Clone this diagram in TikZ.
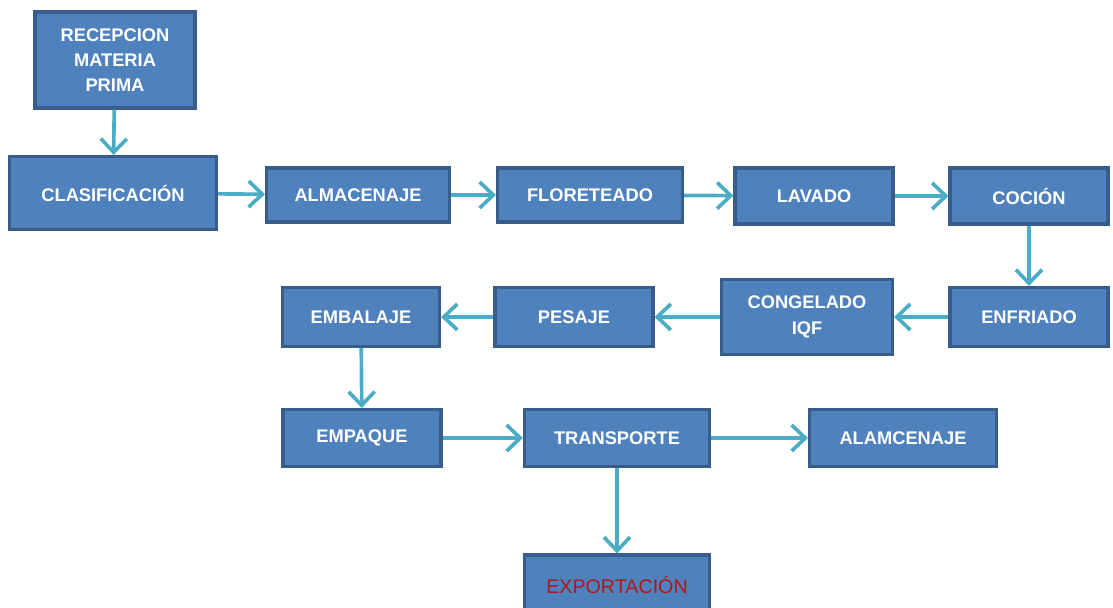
\documentclass[tikz,border=0pt]{standalone}
\usepackage{fontspec}
\setsansfont{Liberation Sans}
\usetikzlibrary{positioning, arrows.meta}
\definecolor{boxblue}{HTML}{4F81BD}
\definecolor{boxedge}{HTML}{385D8A}
\definecolor{flowcyan}{HTML}{4BACC6}
\definecolor{exportred}{HTML}{B01818}
\tikzset{proc/.style={draw=boxedge, fill=boxblue, line width=2.2pt, align=center, text=white, font=\sffamily\bfseries\fontsize{13}{18}\selectfont, inner sep=2pt},
flow/.style={-{Straight Barb[length=3.4mm, width=6.5mm]}, draw=flowcyan, line width=2.6pt}}

\begin{document}
\begin{tikzpicture}[x=0.025cm, y=-0.025cm]
  \useasboundingbox (0,0) rectangle (1113,607);
  % primera fila
  \node[proc, minimum width=4cm, minimum height=2.4cm] (recep) at (115,60) {RECEPCION\\ MATERIA\\ PRIMA};
  \node[proc, minimum width=5.175cm, minimum height=1.825cm] (clasif) at (113,193) {CLASIFICACIÓN};
  \node[proc, minimum width=4.575cm, minimum height=1.35cm] (almac) at (358,195) {ALMACENAJE};
  \node[proc, minimum width=4.625cm, minimum height=1.35cm] (floret) at (590,195) {FLORETEADO};
  \node[proc, minimum width=3.95cm, minimum height=1.4cm] (lavado) at (814,196) {LAVADO};
  \node[proc, minimum width=3.95cm, minimum height=1.4cm] (cocion) at (1029,196) {COCIÓN};
  % segunda fila
  \node[proc, minimum width=3.95cm, minimum height=1.475cm] (enfri) at (1029,317) {ENFRIADO};
  \node[proc, minimum width=4.275cm, minimum height=1.875cm] (congel) at (807,317) {CONGELADO\\ IQF};
  \node[proc, minimum width=3.95cm, minimum height=1.475cm] (pesaje) at (574,317) {PESAJE};
  \node[proc, minimum width=3.925cm, minimum height=1.475cm] (embal) at (361,317) {EMBALAJE};
  % tercera fila
  \node[proc, minimum width=3.95cm, minimum height=1.425cm] (empaq) at (362,438) {EMPAQUE};
  \node[proc, minimum width=4.625cm, minimum height=1.425cm] (transp) at (617,438) {TRANSPORTE};
  \node[proc, minimum width=4.675cm, minimum height=1.425cm] (alamc) at (903,438) {ALAMCENAJE};
  \node[proc, minimum width=4.625cm, minimum height=1.5cm, text=exportred, font=\sffamily\fontsize{14}{18}\selectfont] (export) at (617,585) {EXPORTACIÓN};
  \draw[flow] (recep) -- (clasif);
  \draw[flow] (clasif) -- (almac);
  \draw[flow] (almac) -- (floret);
  \draw[flow] (floret) -- (lavado);
  \draw[flow] (lavado) -- (cocion);
  \draw[flow] (cocion) -- (enfri);
  \draw[flow] (enfri) -- (congel);
  \draw[flow] (congel) -- (pesaje);
  \draw[flow] (pesaje) -- (embal);
  \draw[flow] (embal) -- (empaq);
  \draw[flow] (empaq) -- (transp);
  \draw[flow] (transp) -- (alamc);
  \draw[flow] (transp) -- (export);
\end{tikzpicture}
\end{document}
